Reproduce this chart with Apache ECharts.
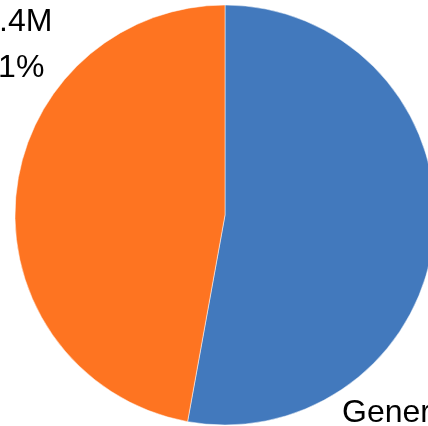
<!DOCTYPE html>
<html>
<head>
<meta charset="utf-8">
<script src="https://cdn.jsdelivr.net/npm/echarts@6/dist/echarts.min.js"></script>
<style>
  html, body { margin: 0; padding: 0; background: #fff; }
  #chart { width: 428px; height: 426px; }
</style>
</head>
<body>
<div id="chart"></div>
<script>
// slices, clockwise from 12 o'clock
var categories = ['General Fund', 'Other']
var values = [13.9, 12.4]       // millions
var colors = ['#4279BD', '#FE7421']

var chart = echarts.init(document.getElementById('chart'))

var total = values.reduce(function (a, b) { return a + b }, 0)

chart.setOption({
  animation: false,
  series: [{
    type: 'pie',
    center: [225, 215],
    radius: 210,
    startAngle: 90,
    clockwise: true,
    itemStyle: {
      borderColor: '#fff',
      borderWidth: 0.5
    },
    label: {
      show: true,
      position: 'inside',
      fontFamily: 'Liberation Sans',
      fontSize: 32,
      lineHeight: 46,
      color: '#000',
      formatter: function (p) {
        return p.name + '\n$' + p.value.toFixed(1) + 'M\n' + (p.value / total * 100).toFixed(1) + '%'
      }
    },
    labelLine: { show: false },
    labelLayout: function (params) {
      // first slice label sits under the bottom right, second above the top left
      if (params.dataIndex === 0) {
        return { x: 342, y: 390, align: 'left', verticalAlign: 'top' }
      }
      return { x: -1, y: -47, align: 'center', verticalAlign: 'top' }
    },
    data: categories.map(function (name, i) {
      return { name: name, value: values[i], itemStyle: { color: colors[i] } }
    })
  }]
})
</script>
</body>
</html>
